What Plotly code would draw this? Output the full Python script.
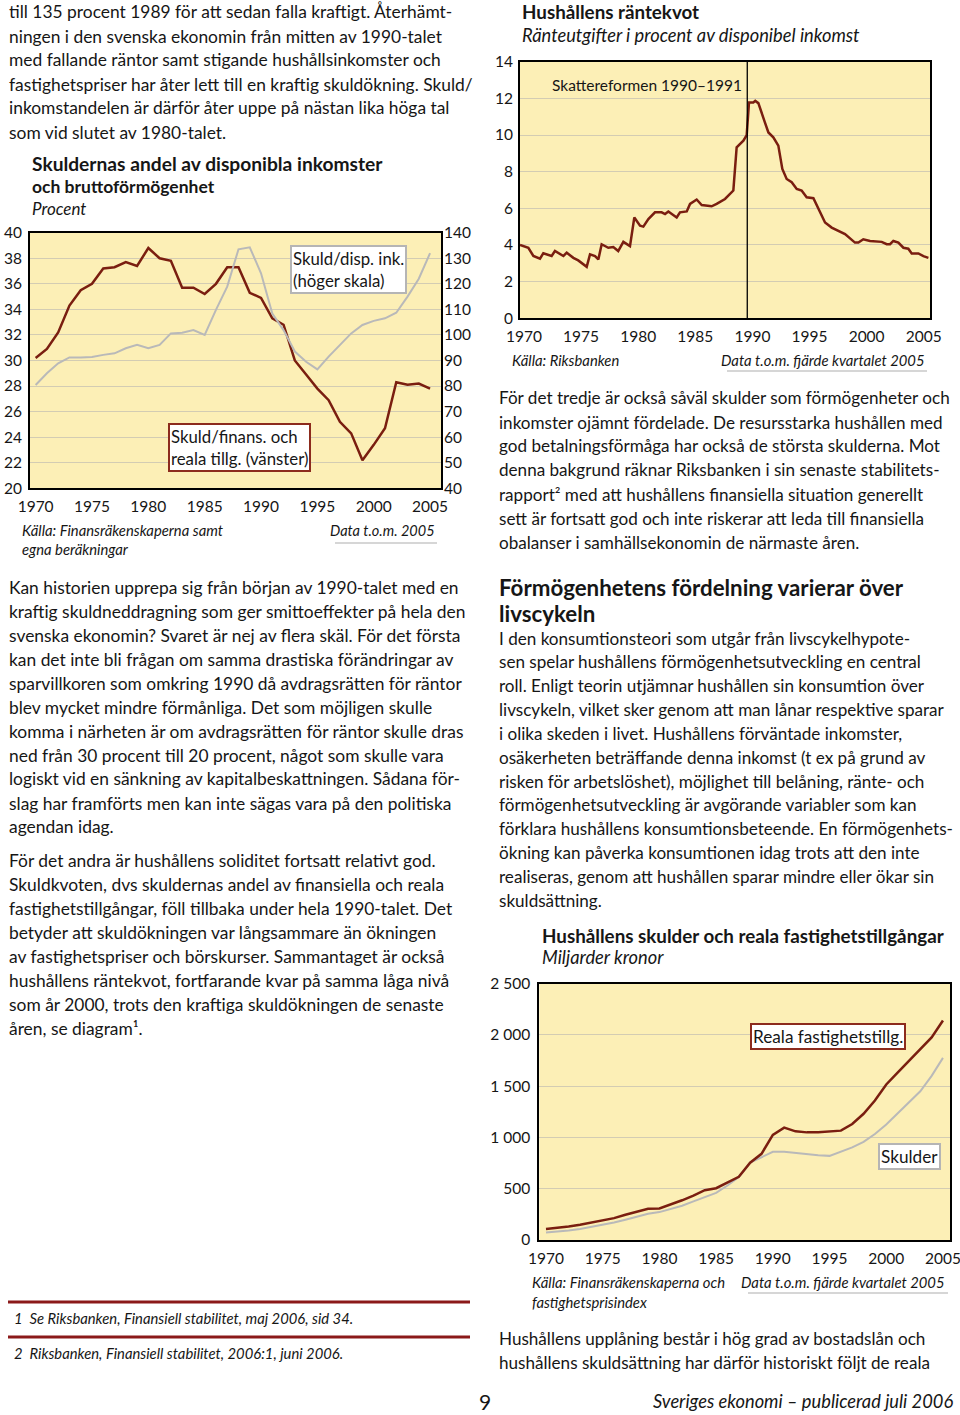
import plotly.graph_objects as go

W, H = 960, 1415
def X(p): return p / W
def Y(p): return 1 - p / H

# ---------------- data ----------------
# Chart 1: Skuldernas andel (annual 1970-2005)
years1 = list(range(1970, 2006))
skuld_finans = [30.2, 30.9, 32.2, 34.3, 35.5, 36.0, 37.2, 37.3, 37.7, 37.4,
                38.8, 38.0, 37.8, 35.7, 35.7, 35.2, 36.0, 37.3, 37.3, 35.3,
                34.9, 33.3, 32.8, 30.0, 28.9, 27.8, 26.9, 25.2, 24.3, 22.2,
                23.4, 24.7, 28.3, 28.1, 28.2, 27.8]
skuld_disp = [80.4, 85.0, 88.9, 91.2, 91.2, 91.4, 92.2, 92.8, 94.8, 96.1,
              94.8, 96.1, 100.6, 100.9, 101.9, 100.0, 109.8, 118.9, 133.5, 134.3,
              124.1, 108.4, 101.9, 93.5, 89.5, 86.5, 91.5, 96.1, 100.6, 103.9,
              105.5, 106.5, 108.7, 115.0, 122.0, 132.0]

# Chart 2: Hushållens räntekvot (quarterly, vertices)
rk_x = [1970.0, 1970.73, 1971.17, 1971.75, 1972.04, 1972.77, 1973.06, 1973.8, 1974.09,
        1974.67, 1975.1, 1975.55, 1975.84, 1976.13, 1976.57, 1976.86, 1977.15, 1977.73,
        1978.17, 1978.6, 1979.05, 1979.63, 1980.01, 1980.51, 1980.8, 1981.24, 1981.82,
        1982.4, 1982.7, 1982.99, 1983.72, 1984.01, 1984.6, 1984.89, 1985.47, 1985.91,
        1986.78, 1987.22, 1987.95, 1988.68, 1988.97, 1989.56, 1989.85, 1990.05, 1990.43,
        1990.6, 1990.87, 1991.45, 1991.75, 1992.18, 1992.62, 1992.97, 1993.35, 1993.79,
        1994.23, 1994.66, 1995.1, 1995.69, 1996.12, 1996.71, 1997.29, 1998.17, 1998.46,
        1999.33, 1999.63, 2000.06, 2000.65, 2001.67, 2002.11, 2002.4, 2002.69, 2003.13,
        2003.57, 2004.0, 2004.3, 2004.88, 2005.32, 2005.76]
rk_y = [4.0, 3.85, 3.4, 3.25, 3.55, 3.4, 3.67, 3.4, 3.58,
        3.3, 3.16, 2.94, 2.81, 3.49, 3.39, 3.21, 4.04, 3.85,
        3.89, 3.67, 4.17, 3.94, 5.5, 5.05, 5.0, 5.41, 5.78,
        5.78, 5.69, 5.83, 5.5, 5.78, 5.83, 6.24, 6.48, 6.18,
        6.11, 6.24, 6.51, 6.97, 9.33, 9.69, 10.0, 11.77, 11.77,
        11.86, 11.74, 10.68, 10.14, 9.87, 9.42, 8.15, 7.6, 7.42,
        7.06, 6.97, 6.6, 6.55, 5.96, 5.23, 4.95, 4.68, 4.59,
        4.13, 4.13, 4.31, 4.22, 4.17, 4.04, 4.04, 4.22, 4.13,
        3.85, 3.8, 3.54, 3.54, 3.39, 3.3]

# Chart 3: Hushållens skulder och reala fastighetstillgångar (annual 1970-2005)
years3 = list(range(1970, 2006))
reala = [108, 118, 131, 148, 170, 190, 213, 246, 279, 305,
         307, 344, 387, 433, 485, 505, 560, 616, 754, 840,
         1025, 1095, 1059, 1049, 1049, 1056, 1066, 1131, 1230, 1360,
         1516, 1631, 1746, 1861, 1975, 2139]
skulder = [72, 79, 92, 108, 128, 148, 170, 197, 230, 256,
           272, 302, 334, 377, 420, 459, 531, 613, 754, 803,
           859, 859, 846, 836, 826, 820, 859, 902, 957, 1033,
           1125, 1230, 1340, 1450, 1600, 1775]

x_ticks = [1970, 1975, 1980, 1985, 1990, 1995, 2000, 2005]
x_ticktext = [str(v) for v in x_ticks]
y3_ticks = [0, 500, 1000, 1500, 2000, 2500]
y3_ticktext = ["0", "500", "1 000", "1 500", "2 000", "2 500"]

# ---------------- style ----------------
RED = "#7a1e10"
GRAY = "#b9b9b9"
BG = "#fcefb6"
GRID = "#d3ccb3"
FONT = "Lato"
TXT = "#161616"

fig = go.Figure()
fig.add_trace(go.Scatter(x=years1, y=skuld_disp, mode="lines", yaxis="y2", xaxis="x",
                         line=dict(color=GRAY, width=2), showlegend=False))
fig.add_trace(go.Scatter(x=years1, y=skuld_finans, mode="lines", yaxis="y", xaxis="x",
                         line=dict(color=RED, width=2.5), showlegend=False))
fig.add_trace(go.Scatter(x=rk_x, y=rk_y, mode="lines", xaxis="x2", yaxis="y3",
                         line=dict(color=RED, width=2.5), showlegend=False))
fig.add_trace(go.Scatter(x=years3, y=skulder, mode="lines", xaxis="x3", yaxis="y4",
                         line=dict(color=GRAY, width=2), showlegend=False))
fig.add_trace(go.Scatter(x=years3, y=reala, mode="lines", xaxis="x3", yaxis="y4",
                         line=dict(color=RED, width=2.5), showlegend=False))

tf = dict(family=FONT, size=15.5, color=TXT)
frame = dict(showline=True, mirror=True, linecolor="black", linewidth=2, ticks="",
             zeroline=False, tickfont=tf, automargin=False, ticklabeloverflow="allow")

fig.update_layout(
    template="none",
    width=W, height=H, margin=dict(l=0, r=0, t=0, b=0, pad=0, autoexpand=False),
    paper_bgcolor="white", plot_bgcolor=BG, showlegend=False,
    xaxis=dict(domain=[X(30), X(441)], range=[1969.5, 2005.97], anchor="y",
               tickvals=x_ticks, ticktext=x_ticktext, showgrid=False,
               ticklabelstandoff=3, **frame),
    yaxis=dict(domain=[Y(488.3), Y(232.7)], range=[20, 40], dtick=2, anchor="x",
               gridcolor=GRID, gridwidth=1, ticklabelstandoff=3, **frame),
    yaxis2=dict(overlaying="y", side="right", range=[40, 140], dtick=10, anchor="x",
                showgrid=False, showline=False, ticks="", zeroline=False, tickfont=tf,
                ticklabelstandoff=2, automargin=False),
    xaxis2=dict(domain=[X(520), X(930)], range=[1970, 2005.9], anchor="y3",
                tickvals=[v + 0.35 for v in x_ticks], ticktext=x_ticktext, showgrid=False,
                ticklabelstandoff=3, **frame),
    yaxis3=dict(domain=[Y(318.3), Y(61.7)], range=[0, 14], dtick=2, anchor="x2",
                gridcolor=GRID, gridwidth=1, ticklabelstandoff=2, **frame),
    xaxis3=dict(domain=[X(539.3), X(950)], range=[1969.41, 2005.62], anchor="y4",
                tickvals=x_ticks, ticktext=x_ticktext, showgrid=False,
                ticklabelstandoff=3, **frame),
    yaxis4=dict(domain=[Y(1240), Y(983.5)], range=[0, 2500], anchor="x3",
                tickvals=y3_ticks, ticktext=y3_ticktext,
                gridcolor=GRID, gridwidth=1, ticklabelstandoff=4, **frame),
)

ann = []
def txt(x, y, s, size=17.2, bold=False, italic=False, anchor="left", color=TXT):
    t = f"<b>{s}</b>" if bold else s
    t = f"<i>{t}</i>" if italic else t
    ann.append(dict(x=X(x), y=Y(y), xref="paper", yref="paper", text=t, showarrow=False,
                    xanchor=anchor, yanchor="middle",
                    font=dict(family=FONT, size=size, color=color)))

def para(x, y0, lines, dy=24, size=17.2):
    for i, s in enumerate(lines):
        txt(x, y0 + i * dy, s, size=size)

# ---- body text ----
para(7, 12, [
    "till 135 procent 1989 för att sedan falla kraftigt. Återhämt-",
    "ningen i den svenska ekonomin från mitten av 1990-talet",
    "med fallande räntor samt stigande hushållsinkomster och",
    "fastighetspriser har åter lett till en kraftig skuldökning. Skuld/",
    "inkomstandelen är därför åter uppe på nästan lika höga tal",
    "som vid slutet av 1980-talet.",
], size=17.4)
para(7, 587, [
    "Kan historien upprepa sig från början av 1990-talet med en",
    "kraftig skuldneddragning som ger smittoeffekter på hela den",
    "svenska ekonomin? Svaret är nej av flera skäl. För det första",
    "kan det inte bli frågan om samma drastiska förändringar av",
    "sparvillkoren som omkring 1990 då avdragsrätten för räntor",
    "blev mycket mindre förmånliga. Det som möjligen skulle",
    "komma i närheten är om avdragsrätten för räntor skulle dras",
    "ned från 30 procent till 20 procent, något som skulle vara",
    "logiskt vid en sänkning av kapitalbeskattningen. Sådana för-",
    "slag har framförts men kan inte sägas vara på den politiska",
    "agendan idag.",
], size=17.4)
para(7, 860, [
    "För det andra är hushållens soliditet fortsatt relativt god.",
    "Skuldkvoten, dvs skuldernas andel av finansiella och reala",
    "fastighetstillgångar, föll tillbaka under hela 1990-talet. Det",
    "betyder att skuldökningen var långsammare än ökningen",
    "av fastighetspriser och börskurser. Sammantaget är också",
    "hushållens räntekvot, fortfarande kvar på samma låga nivå",
    "som år 2000, trots den kraftiga skuldökningen de senaste",
    "åren, se diagram¹.",
], size=17.4)
para(497, 398, [
    "För det tredje är också såväl skulder som förmögenheter och",
    "inkomster ojämnt fördelade. De resursstarka hushållen med",
    "god betalningsförmåga har också de största skulderna. Mot",
    "denna bakgrund räknar Riksbanken i sin senaste stabilitets-",
    "rapport² med att hushållens finansiella situation generellt",
    "sett är fortsatt god och inte riskerar att leda till finansiella",
    "obalanser i samhällsekonomin de närmaste åren.",
], size=17.1)
txt(497, 587, "Förmögenhetens fördelning varierar över", size=22.3, bold=True)
txt(497, 613, "livscykeln", size=22.3, bold=True)
para(497, 638, [
    "I den konsumtionsteori som utgår från livscykelhypote-",
    "sen spelar hushållens förmögenhetsutveckling en central",
    "roll. Enligt teorin utjämnar hushållen sin konsumtion över",
    "livscykeln, vilket sker genom att man lånar respektive sparar",
    "i olika skeden i livet. Hushållens förväntade inkomster,",
    "osäkerheten beträffande denna inkomst (t ex på grund av",
    "risken för arbetslöshet), möjlighet till belåning, ränte- och",
    "förmögenhetsutveckling är avgörande variabler som kan",
    "förklara hushållens konsumtionsbeteende. En förmögenhets-",
    "ökning kan påverka konsumtionen idag trots att den inte",
    "realiseras, genom att hushållen sparar mindre eller ökar sin",
    "skuldsättning.",
], dy=23.85, size=17.1)
para(497, 1338, [
    "Hushållens upplåning består i hög grad av bostadslån och",
    "hushållens skuldsättning har därför historiskt följt de reala",
], size=17.1)

# ---- chart 1 texts ----
txt(30, 164, "Skuldernas andel av disponibla inkomster", size=19.2, bold=True)
txt(30, 186, "och bruttoförmögenhet", size=17.5, bold=True)
txt(30, 208, "Procent", size=17, italic=True)
txt(20, 530, "Källa: Finansräkenskaperna samt", size=14.8, italic=True)
txt(20, 549, "egna beräkningar", size=14.8, italic=True)
txt(437, 530, "Data t.o.m. 2005", size=14.5, italic=True, anchor="right")

# ---- chart 2 texts ----
txt(520, 12, "Hushållens räntekvot", size=18.8, bold=True)
txt(520, 35, "Ränteutgifter i procent av disponibel inkomst", size=18.3, italic=True)
txt(744, 85, "Skattereformen 1990–1991", size=15.5, anchor="right")
txt(510, 360, "Källa: Riksbanken", size=14.8, italic=True)
txt(927, 360, "Data t.o.m. fjärde kvartalet 2005", size=14.8, italic=True, anchor="right")

# ---- chart 3 texts ----
txt(540, 935, "Hushållens skulder och reala fastighetstillgångar", size=18.8, bold=True)
txt(540, 957, "Miljarder kronor", size=18.3, italic=True)
txt(530, 1282, "Källa: Finansräkenskaperna och", size=14.8, italic=True)
txt(530, 1302, "fastighetsprisindex", size=14.8, italic=True)
txt(947, 1282, "Data t.o.m. fjärde kvartalet 2005", size=14.8, italic=True, anchor="right")

# ---- footnotes / footer ----
txt(12, 1318, "1  Se Riksbanken, Finansiell stabilitet, maj 2006, sid 34.", size=14.8, italic=True)
txt(12, 1353, "2  Riksbanken, Finansiell stabilitet, 2006:1, juni 2006.", size=14.8, italic=True)
txt(485, 1401, "9", size=21, anchor="center")
txt(955, 1401, "Sveriges ekonomi – publicerad juli 2006", size=18.3, italic=True, anchor="right")

# ---- legend boxes ----
def box(x, y, s, border, size=16.8):
    ann.append(dict(x=X(x), y=Y(y), xref="paper", yref="paper", text=s, showarrow=False,
                    xanchor="left", yanchor="top", align="left",
                    font=dict(family=FONT, size=size, color=TXT),
                    bgcolor="white", bordercolor=border, borderwidth=2, borderpad=1))
box(290, 245, "Skuld/disp. ink.<br>(höger skala)", "#b5b5b5")
box(168, 423, "Skuld/finans. och<br>reala tillg. (vänster)", "#8c2b1d")
box(750, 1023, "Reala fastighetstillg.", "#8c2b1d", 17.2)
box(878, 1143, "Skulder", "#b5b5b5", 17.2)

fig.update_layout(annotations=ann)

# ---- shapes ----
shapes = []
def hline(x0, x1, y, color, width):
    shapes.append(dict(type="line", xref="paper", yref="paper", x0=X(x0), x1=X(x1),
                       y0=Y(y), y1=Y(y), line=dict(color=color, width=width)))
hline(335, 437, 543, "#c8c8c8", 1.5)
hline(727, 927, 371, "#c8c8c8", 1.5)
hline(748, 948, 1293, "#c8c8c8", 1.5)
hline(8, 470, 1302, "#8b1a1a", 3)
hline(8, 470, 1337, "#8b1a1a", 3)
shapes.append(dict(type="line", xref="x2", yref="y3", x0=1989.9, x1=1989.9, y0=0, y1=14,
                   line=dict(color="black", width=1.3)))
fig.update_layout(shapes=shapes)

# remove the browser's default 8px page margin so the figure fills the window
fig.write_html("out.html", config={"displayModeBar": False},
               post_script="document.body.style.margin='0';document.body.style.overflow='hidden';")
